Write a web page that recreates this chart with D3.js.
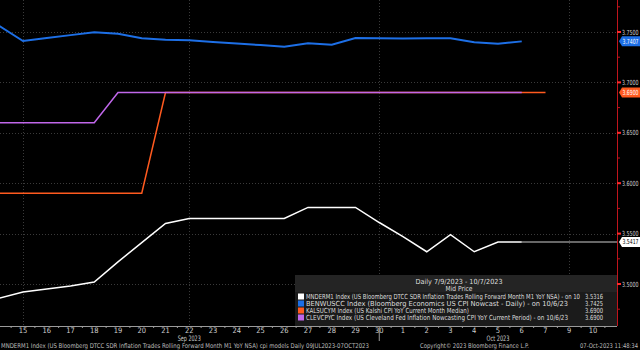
<!DOCTYPE html>
<html>
<head>
<meta charset="utf-8">
<script src="https://cdn.jsdelivr.net/npm/d3@7"></script>
<style>
	html, body { margin: 0; padding: 0; background: #000; }
	svg { display: block; font-family: "DejaVu Sans Condensed", "Liberation Sans", sans-serif; }
</style>
</head>
<body>
<svg width="640" height="350"></svg>
<script>
// Day index -1 = 14 Sep 2023 ... 24 = 10 Oct (8 Oct is not on the axis)
const dayIndex = d3.range(-1, 25);
const dayLabels = ["14","15","16","17","18","19","20","21","22","23","24","25","26","27","28","29","30",
	"1","2","3","4","5","6","7","9","10"];
const gridDays = [0, 7, 15, 23];
const monthLabels = [{ label: "Sep 2023", at: 7 }, { label: "Oct 2023", at: 20 }];
const monthBreak = 15;

// Series values, one per day starting 14 Sep
const mnderm1 = [3.486, 3.492, 3.495, 3.498, 3.502, 3.522, 3.541, 3.560, 3.565, 3.565, 3.565, 3.565, 3.565,
	3.576, 3.576, 3.576, 3.561, 3.547, 3.532, 3.549, 3.532, 3.5417, 3.5417];
const benwuscc = [3.756, 3.7411, 3.7440, 3.7469, 3.7497, 3.7483, 3.7438, 3.7424, 3.7418, 3.7402, 3.7386, 3.7370,
	3.7354, 3.7388, 3.7374, 3.7440, 3.7437, 3.7436, 3.7437, 3.7438, 3.7398, 3.7384, 3.7407];
const kalsucym = [3.59, 3.59, 3.59, 3.59, 3.59, 3.59, 3.59, 3.69, 3.69, 3.69, 3.69, 3.69, 3.69, 3.69, 3.69,
	3.69, 3.69, 3.69, 3.69, 3.69, 3.69, 3.69, 3.69, 3.69];
const clevcpyc = [3.66, 3.66, 3.66, 3.66, 3.66, 3.69, 3.69, 3.69, 3.69, 3.69, 3.69, 3.69, 3.69, 3.69, 3.69,
	3.69, 3.69, 3.69, 3.69, 3.69, 3.69, 3.69, 3.69];

const yTicks = [3.50, 3.55, 3.60, 3.65, 3.70, 3.75];
const lastLabels = [
	{ value: 3.7407, text: "3.7407", bg: "#1d6fe6", fg: "#fff" },
	{ value: 3.69, text: "3.6900", bg: "#ff5a1f", fg: "#fff" },
	{ value: 3.5417, text: "3.5417", bg: "#fff", fg: "#000" }
];

const legendTitle = [
	{ text: "Daily 7/9/2023 - 10/7/2023", w: 87 },
	{ text: "Mid Price", w: 27 }
];
const legendRows = [
	{ color: "#ffffff", text: "MNDERM1 Index (US Bloomberg DTCC SDR Inflation Trades Rolling Forward Month M1 YoY NSA) -  on 10", w: 274, value: "3.5316" },
	{ color: "#1d6fe6", text: "BENWUSCC Index (Bloomberg Economics US CPI Nowcast - Daily) -  on 10/6/23", w: 262, value: "3.7425" },
	{ color: "#ff5a1f", text: "KALSUCYM Index (US Kalshi CPI YoY Current Month Median)", w: 163, value: "3.6900" },
	{ color: "#c067ea", text: "CLEVCPYC Index (US Cleveland Fed Inflation Nowcasting CPI YoY Current Period) -  on 10/6/23", w: 262, value: "3.6900" }
];

const svg = d3.select("svg");
const plotRight = 617, plotBottom = 326;

const x = d3.scaleLinear().domain([-1, 25]).range([-0.75, 616.75]);
const y = d3.scaleLinear().domain([3.5, 3.75]).range([284, 32]);

svg.append("defs").append("clipPath").attr("id", "plot")
	.append("rect").attr("x", 0).attr("y", 0).attr("width", plotRight).attr("height", plotBottom);

function fit(sel, w) {
	return sel.attr("textLength", w).attr("lengthAdjust", "spacingAndGlyphs");
}

// grid
const grid = svg.append("g").attr("stroke", "#3a3a3a").attr("stroke-dasharray", "1,2");
grid.selectAll(".hg").data(yTicks).enter().append("line")
	.attr("x1", 0).attr("x2", plotRight)
	.attr("y1", (d) => Math.round(y(d)) + 0.5).attr("y2", (d) => Math.round(y(d)) + 0.5);
grid.selectAll(".vg").data(gridDays).enter().append("line")
	.attr("y1", 0).attr("y2", plotBottom)
	.attr("x1", (d) => Math.round(x(d)) + 0.5).attr("x2", (d) => Math.round(x(d)) + 0.5);

// lines
const line = d3.line().x((d, i) => x(i - 1)).y((d) => y(d));
const lines = svg.append("g").attr("clip-path", "url(#plot)").attr("fill", "none");

// last value extension of the white series
lines.append("line")
	.attr("x1", x(mnderm1.length - 2)).attr("x2", plotRight)
	.attr("y1", y(mnderm1[mnderm1.length - 1])).attr("y2", y(mnderm1[mnderm1.length - 1]))
	.attr("stroke", "#8a8a8a").attr("stroke-width", 1.5);

lines.append("path").datum(kalsucym).attr("d", line).attr("stroke", "#ff5a1f").attr("stroke-width", 1.5);
lines.append("path").datum(clevcpyc).attr("d", line).attr("stroke", "#c067ea").attr("stroke-width", 1.5);
lines.append("path").datum(mnderm1).attr("d", line).attr("stroke", "#ffffff").attr("stroke-width", 1.5);
lines.append("path").datum(benwuscc).attr("d", line).attr("stroke", "#1d6fe6").attr("stroke-width", 2);

// right axis
const yAxis = svg.append("g");
yAxis.append("line").attr("x1", plotRight + 0.5).attr("x2", plotRight + 0.5)
	.attr("y1", 0).attr("y2", plotBottom).attr("stroke", "#c0141c").attr("stroke-width", 1);
yAxis.selectAll(".mt").data(d3.range(3.475, 3.78, 0.025)).enter().append("line")
	.attr("x1", plotRight).attr("x2", plotRight + 3)
	.attr("y1", (d) => y(d)).attr("y2", (d) => y(d))
	.attr("stroke", "#c0141c").attr("stroke-width", 1);
yAxis.selectAll(".Mt").data(yTicks).enter().append("rect")
	.attr("x", plotRight).attr("y", (d) => y(d) - 1)
	.attr("width", 4).attr("height", 2).attr("fill", "#ff2a2a");
fit(yAxis.selectAll("text").data(yTicks).enter().append("text")
	.attr("x", 622).attr("y", (d) => y(d) + 2.5)
	.attr("fill", "#d0d0d0").attr("font-size", 7)
	.text((d) => d.toFixed(4)), 16.5);

// last value labels
const tags = svg.append("g").selectAll("g").data(lastLabels).enter().append("g")
	.attr("transform", (d) => `translate(0, ${y(d.value)})`);
tags.append("path")
	.attr("d", "M619,0 L622,-5 L640,-5 L640,5 L622,5 Z")
	.attr("fill", (d) => d.bg);
fit(tags.append("text").attr("x", 622.5).attr("y", 2.5)
	.attr("fill", (d) => d.fg).attr("font-size", 7).text((d) => d.text), 16);

// bottom axis
const xAxis = svg.append("g");
xAxis.append("line").attr("x1", 0).attr("x2", plotRight).attr("y1", plotBottom + 0.5).attr("y2", plotBottom + 0.5)
	.attr("stroke", "#9a9a9a");
xAxis.selectAll(".xt").data(d3.range(-0.5, 25, 1)).enter().append("line")
	.attr("x1", (d) => x(d)).attr("x2", (d) => x(d))
	.attr("y1", plotBottom).attr("y2", plotBottom + 2).attr("stroke", "#9a9a9a");
xAxis.selectAll(".xl").data(dayIndex.slice(1)).enter().append("text")
	.attr("x", (d) => x(d)).attr("y", 333)
	.attr("text-anchor", "middle").attr("fill", "#cfcfcf").attr("font-size", 7.5)
	.text((d) => dayLabels[d + 1]);
xAxis.append("line").attr("x1", x(monthBreak)).attr("x2", x(monthBreak))
	.attr("y1", plotBottom).attr("y2", 341).attr("stroke", "#9a9a9a");
fit(xAxis.selectAll(".ml").data(monthLabels).enter().append("text")
	.attr("x", (d) => x(d.at)).attr("y", 341)
	.attr("text-anchor", "middle").attr("fill", "#cfcfcf").attr("font-size", 7.5)
	.text((d) => d.label), 23);

// legend
const legend = svg.append("g");
legend.append("rect").attr("x", 295).attr("y", 275).attr("width", plotRight - 295).attr("height", plotBottom - 275)
	.attr("fill", "#1b1b1b");
legend.append("rect").attr("x", 295).attr("y", 275).attr("width", plotRight - 295).attr("height", 17)
	.attr("fill", "#242424");
legend.selectAll(".lt").data(legendTitle).enter().append("text")
	.attr("x", 459).attr("y", (d, i) => 283.5 + i * 7.5)
	.attr("text-anchor", "middle").attr("fill", "#dedede").attr("font-size", 7)
	.attr("textLength", (d) => d.w).attr("lengthAdjust", "spacingAndGlyphs")
	.text((d) => d.text);
const rows = legend.selectAll(".lr").data(legendRows).enter().append("g")
	.attr("transform", (d, i) => `translate(0, ${296.5 + i * 7})`);
rows.append("rect").attr("x", 298).attr("y", -3).attr("width", 6).attr("height", 6).attr("fill", (d) => d.color);
rows.append("text").attr("x", 306).attr("y", 2.5).attr("fill", "#dedede").attr("font-size", 7)
	.attr("textLength", (d) => d.w).attr("lengthAdjust", "spacingAndGlyphs")
	.text((d) => d.text);
fit(rows.append("text").attr("x", 585).attr("y", 2.5)
	.attr("fill", "#dedede").attr("font-size", 7).text((d) => d.value), 18);

// footer
const foot = svg.append("g").attr("fill", "#bdbdbd").attr("font-size", 6.5);
fit(foot.append("text").attr("x", 1).attr("y", 348)
	.text("MNDERM1 Index (US Bloomberg DTCC SDR Inflation Trades Rolling Forward Month M1 YoY NSA) cpi models  Daily 09JUL2023-07OCT2023"), 368);
fit(foot.append("text").attr("x", 420).attr("y", 348)
	.text("Copyright\u00a9 2023 Bloomberg Finance L.P."), 109);
fit(foot.append("text").attr("x", 580).attr("y", 348)
	.text("07-Oct-2023 11:48:34"), 58);
</script>
</body>
</html>
